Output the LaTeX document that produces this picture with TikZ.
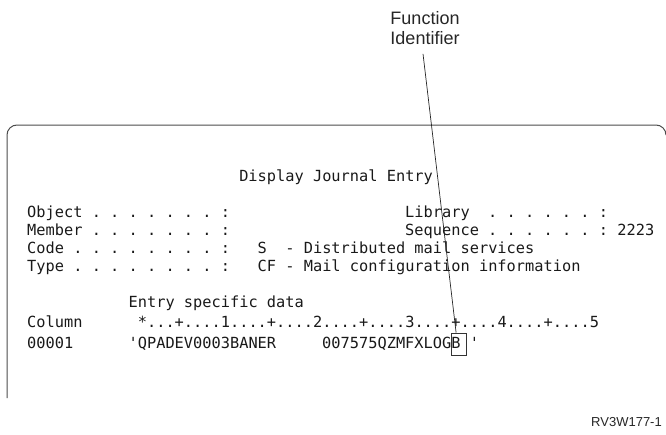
\documentclass[tikz,border=0pt]{standalone}
\usepackage{fontspec}
\setmainfont{Liberation Sans}
\newfontfamily\scrfont[Ligatures=TeXOff]{DejaVu Sans Mono}
\usepackage{tikz}

\begin{document}
\begin{tikzpicture}[x=1pt,y=-1pt,
  scr/.style={font=\scrfont\fontsize{15.32}{18}\selectfont\frenchspacing,anchor=base west,inner sep=0pt,text=black!90},
  lbl/.style={font=\fontsize{18}{20}\selectfont,inner sep=0pt,text=black!85}]
\useasboundingbox (0,0) rectangle (666,434);
\draw [black!70,line width=1pt] (7,398) -- (7,135) arc (180:270:10) -- (656,125) arc (270:360:10);

\node [lbl,align=center] (fnid) at (425,28) {Function\\Identifier};
\node [lbl,font=\fontsize{13}{15}\selectfont,anchor=base east] (figid) at (662,426) {RV3W177-1};

\node [scr] (title) at (239.06,181.6) {Display Journal Entry};

\node [scr] (obj) at (27,217.6) {Object . . . . . . . :};
\node [scr] (lib) at (405.02,217.6) {Library};
\node [scr] (libdots) at (488,217.6) {. . . . . . :};
\node [scr] (mbr) at (27,235.6) {Member . . . . . . . :};
\node [scr] (seq) at (405.02,235.6) {Sequence . . . . . . : 2223};
\node [scr] (code) at (27,253.6) {Code . . . . . . . . :};
\node [scr] (codev) at (257.5,253.6) {S};
\node [scr] (codet) at (285.16,253.6) {- Distributed mail services};
\node [scr] (type) at (27,271.6) {Type . . . . . . . . :};
\node [scr] (typev) at (257.5,271.6) {CF - Mail configuration information};

\node [scr] (esd) at (128.42,307.6) {Entry specific data};
\node [scr] (col) at (27,327.6) {Column};
\node [scr] (ruler) at (137.64,327.6) {*...+....1....+....2....+....3....+....4....+....5};
\node [scr] (row) at (27,348.6) {00001};
\node [scr] (data1) at (128.42,348.6) {'QPADEV0003BANER};
\node [scr] (data2) at (322.04,348.6) {007575QZMFXLOG};
\node [scr] (fid) at (451.12,348.6) {B};
\node [scr] (dend) at (469.56,348.6) {'};
\node [draw,black!80,line width=0.7pt,minimum width=15pt,minimum height=22pt,inner sep=0pt] (fidbox) at (458.6,344) {};

\draw [black!85,line width=0.7pt] ([xshift=-2pt,yshift=-9pt]fnid.south) -- ([xshift=-2.5pt]fidbox.north);
\end{tikzpicture}
\end{document}
